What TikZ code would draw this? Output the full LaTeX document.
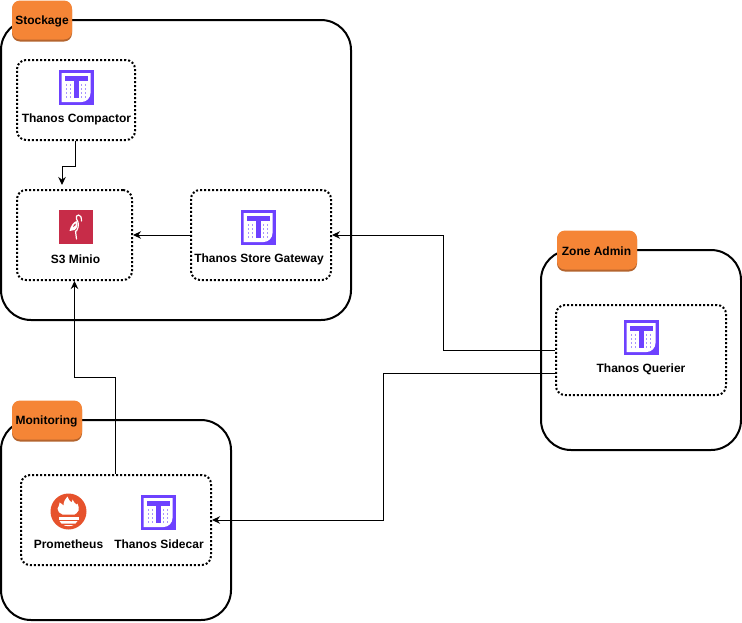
\documentclass[tikz,border=0pt]{standalone}
\usepackage{fontspec}
\setmainfont{Liberation Sans}
\usetikzlibrary{arrows.meta,calc}
\definecolor{tagorange}{HTML}{F58536}
\definecolor{tagedge}{HTML}{B4642E}
\definecolor{thanospurple}{HTML}{6D41FF}
\definecolor{thanosdot}{HTML}{A893FF}
\definecolor{miniored}{HTML}{C72C48}
\definecolor{promred}{HTML}{E6522C}
\tikzset{
  x=1pt,y=-1pt,
  container/.style={draw=black,line width=2pt,rounded corners=30pt,fill=white,inner sep=0pt},
  tagbox/.style={fill=tagorange,rounded corners=8pt,inner sep=0pt,yshift=0.5pt},
  tagtext/.style={font=\fontsize{12}{14}\selectfont\bfseries,text=black,inner sep=0pt,yshift=-1pt},
  tagshade/.style={fill=tagedge,rounded corners=8pt},
  dotbox/.style={draw=black,line width=2pt,dash pattern=on 2pt off 2pt,rounded corners=9pt,inner sep=0pt},
  lbl/.style={font=\fontsize{12}{14}\selectfont\bfseries,text=black,inner sep=0pt,yshift=-1pt},
  link/.style={draw=black,line width=1pt,-{Stealth[length=8pt,width=7.5pt]}},
  thanos/.pic={
    \fill[thanospurple] (0,0) rectangle (35,35);
    \fill[white] (3,3) -- (32,3) -- (32,23) .. controls (32,28) and (28,32) .. (23,32) -- (3,32) -- cycle;
    \fill[thanospurple] (6.5,6) rectangle (29,11);
    \fill[thanospurple] (15,11) rectangle (20,28);
    \foreach \px in {8,12,23,27}{\foreach \py in {15,19,23,27}{\fill[thanosdot] (\px-0.9,\py-0.9) rectangle (\px+0.9,\py+0.9);}}
  },
  minio/.pic={
    \fill[miniored] (0,0) rectangle (34,34);
    \draw[white,line width=1.2pt,line cap=round,line join=round]
      (17,21) -- (18,29) (18,21) .. controls (21,16) and (20,12) .. (18,9)
      .. controls (17,7) and (18,5) .. (20,5) .. controls (22,5) and (23,7) .. (23,11);
    \fill[white] (11,21) .. controls (12,16) and (15,12) .. (18,11) .. controls (20,14) and (19,18) .. (16,20) -- cycle;
    \fill[miniored] (14.5,17) .. controls (15,15) and (16,14) .. (17.5,13.5) .. controls (17.5,15) and (16.5,16.5) .. (14.5,17) -- cycle;
  },
  prometheus/.pic={
    \fill[promred] (0,0) circle (18);
    \fill[white] (-11,-3) .. controls (-9,-6) and (-9,-9) .. (-9,-9) .. controls (-7,-8) and (-6,-7) .. (-5,-6)
      .. controls (-5,-10) and (-3,-13) .. (-1,-15) .. controls (0,-12) and (1,-11) .. (3,-9)
      .. controls (4,-10) and (4,-12) .. (4,-12) .. controls (5,-9) and (7,-8) .. (8,-7)
      .. controls (9,-7) and (9,-8) .. (9,-8) .. controls (10,-5) and (11,-3) .. (10,-1)
      .. controls (9,1) and (7,3) .. (6,3) -- (-6,3) .. controls (-9,2) and (-11,0) .. (-11,-3) -- cycle;
    \fill[white] (-10,5) rectangle (10,8);
    \fill[white] (-9,9.5) -- (9,9.5) -- (7,12) -- (-7,12) -- cycle;
    \fill[white] (-5,13.5) -- (5,13.5) .. controls (3,15) and (-3,15) .. (-5,13.5) -- cycle;
  },
}
\begin{document}
\begin{tikzpicture}
\useasboundingbox (0,0) rectangle (742,622);
% containers
\node[container,minimum width=350pt,minimum height=300pt] (stockage) at (176,170) {};
\node[container,minimum width=200pt,minimum height=200pt] (zone) at (641,350) {};
\node[container,minimum width=230pt,minimum height=200pt] (monitoring) at (116,520) {};
% tags
\fill[tagshade] (12,1.5) rectangle (72,41.5);
\node[tagbox,minimum width=60pt,minimum height=39pt] (stockagetag) at (42,20.5) {};
\node[tagtext] (stockagelabel) at (42,20.5) {Stockage};
\fill[tagshade] (557,231.5) rectangle (637,271.5);
\node[tagbox,minimum width=80pt,minimum height=39pt] (zonetag) at (597,250.5) {};
\node[tagtext] (zonelabel) at (596.5,250.5) {Zone Admin};
\fill[tagshade] (12,401.5) rectangle (82,441.5);
\node[tagbox,minimum width=70pt,minimum height=39pt] (monitoringtag) at (47,420.5) {};
\node[tagtext] (monitoringlabel) at (46.5,420.5) {Monitoring};
% dotted groups
\node[dotbox,minimum width=118pt,minimum height=80pt] (compactor) at (76,100) {};
\node[dotbox,minimum width=115pt,minimum height=90pt] (s3) at (74.5,235) {};
\node[dotbox,minimum width=140pt,minimum height=90pt] (gateway) at (261,235) {};
\node[dotbox,minimum width=170pt,minimum height=90pt] (querier) at (641,350) {};
\node[dotbox,minimum width=190pt,minimum height=90pt] (sidecar) at (116,520) {};
% icons
\pic at (58.5,70) {thanos};
\pic at (58.5,210) {minio};
\pic at (240.5,210) {thanos};
\pic at (623.5,320) {thanos};
\pic at (140.5,495) {thanos};
\pic at (68.5,511.5) {prometheus};
% labels
\node[lbl] (t1) at (76.5,118) {Thanos Compactor};
\node[lbl] (t2) at (75.5,258) {S3 Minio};
\node[lbl] (t3) at (259,258) {Thanos Store Gateway};
\node[lbl] (t4) at (641,368) {Thanos Querier};
\node[lbl] (t5) at (68.5,543) {Prometheus};
\node[lbl] (t6) at (159,543) {Thanos Sidecar};
% connectors
\coordinate (s3top) at ($(s3.north)+(-12.5,-4)$);
\coordinate (qlow) at ($(querier.west)+(0,23)$);
\coordinate (cstart) at ($(compactor.south)+(-0.4,0)$);
\coordinate (mstart) at ($(sidecar.north)+(-0.4,0)$);
\draw[link] (cstart) -- ++(0,25) -| (s3top);
\draw[link] (gateway.west) -- (s3.east);
\draw[link] (querier.west) -- (443.6,350) |- (gateway.east);
\draw[link] (qlow) -- (383.6,373) |- (sidecar.east);
\draw[link] (mstart) -- ++(0,-97) -| (s3.south);
\end{tikzpicture}
\end{document}
